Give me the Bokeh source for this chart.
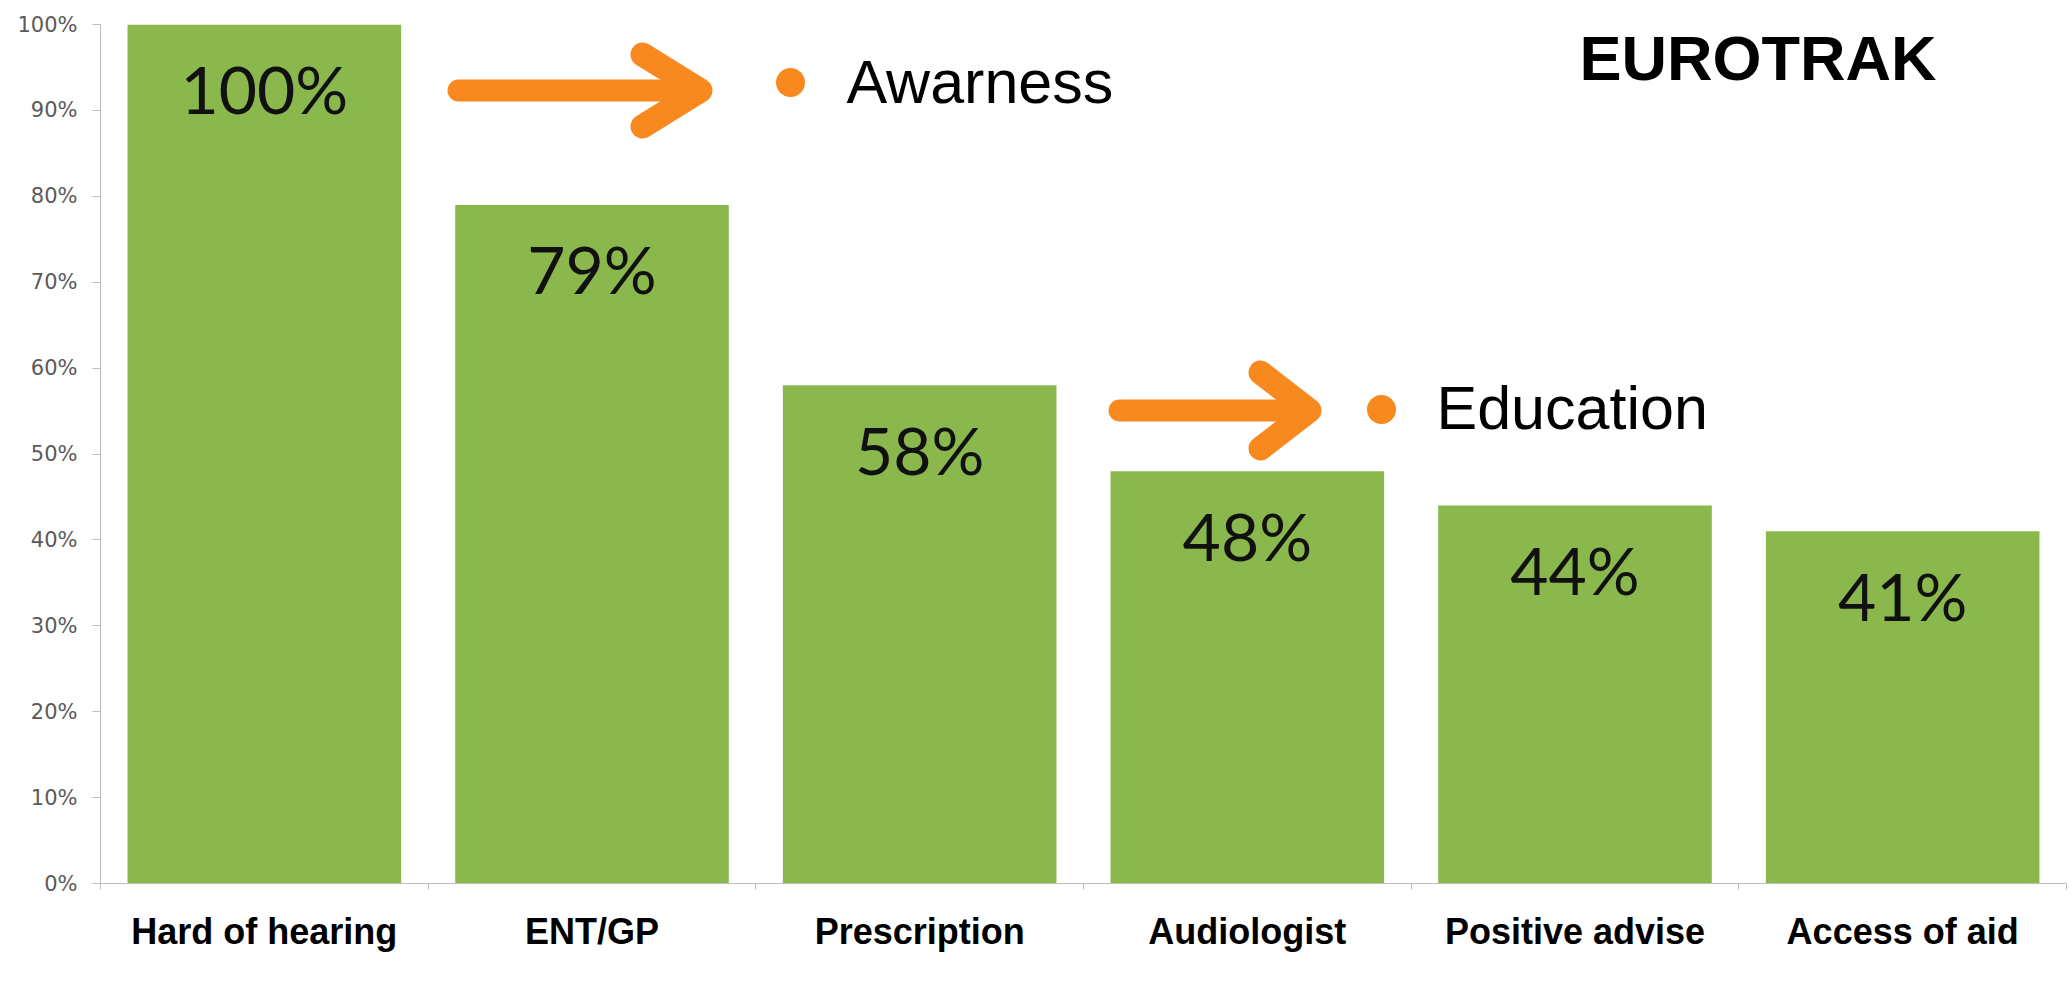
from bokeh.plotting import figure
from bokeh.models import Range1d, FixedTicker, NumeralTickFormatter, Label, ColumnDataSource
from bokeh.core.properties import value
from bokeh.embed import file_html
from bokeh.resources import INLINE

categories = ["Hard of hearing", "ENT/GP", "Prescription", "Audiologist", "Positive advise", "Access of aid"]
shares = [1.00, 0.79, 0.58, 0.48, 0.44, 0.41]
share_labels = ["100%", "79%", "58%", "48%", "44%", "41%"]
y_ticks = [0.0, 0.1, 0.2, 0.3, 0.4, 0.5, 0.6, 0.7, 0.8, 0.9, 1.0]
notes = ["Awarness", "Education"]
title_text = "EUROTRAK"

W, H = 2072, 983
FL, FR, FT, FB = 100, 2066, 24, 883
n = len(categories)
idx = list(range(n))

GREEN = "#8ab84c"
ORANGE = "#f7891f"

def dx(px):
    return (px - FL) / (FR - FL) * n - 0.5

def dy(py):
    return (FB - py) / (FB - FT)

p = figure(width=W, height=H, output_backend="svg", toolbar_location=None,
           x_range=Range1d(-0.5, n - 0.5), y_range=Range1d(0, 1.0),
           min_border_left=FL, min_border_right=W - FR, min_border_top=FT,
           min_border_bottom=H - FB)
p.outline_line_color = None
p.xgrid.visible = False
p.ygrid.visible = False
p.background_fill_color = "white"
p.border_fill_color = "white"

src = ColumnDataSource(dict(x=idx, top=shares, lab=share_labels))
p.vbar(x="x", top="top", width=0.835, source=src, fill_color=GREEN, line_color=None)
p.text(x="x", y="top", text="lab", source=src, y_offset=64,
       text_align="center", text_baseline="middle",
       text_font=value("Lato"), text_font_size="66px", text_color="#111111")

# x axis
xa = p.xaxis[0]
xa.ticker = FixedTicker(ticks=idx, minor_ticks=[i - 0.5 for i in range(n + 1)])
xa.major_label_overrides = {i: c for i, c in zip(idx, categories)}
xa.axis_line_color = "#bdbdbd"
xa.major_tick_line_color = None
xa.minor_tick_line_color = "#bdbdbd"
xa.minor_tick_in = 0
xa.minor_tick_out = 6
xa.major_label_standoff = 21
xa.major_label_text_font = "Liberation Sans"
xa.major_label_text_font_style = "bold"
xa.major_label_text_font_size = "36px"
xa.major_label_text_color = "black"

# y axis
ya = p.yaxis[0]
ya.ticker = FixedTicker(ticks=y_ticks)
ya.formatter = NumeralTickFormatter(format="0%")
ya.axis_line_color = "#bdbdbd"
ya.major_tick_line_color = "#bdbdbd"
ya.major_tick_in = 0
ya.major_tick_out = 8
ya.minor_tick_line_color = None
ya.major_label_standoff = 15
ya.major_label_text_font = "DejaVu Sans"
ya.major_label_text_font_size = "21px"
ya.major_label_text_color = "#5a5a5a"

# arrows
def arrow(x0, x1, tipx, backx, yc, spread):
    p.line([dx(x0), dx(x1)], [dy(yc), dy(yc)], line_color=ORANGE, line_width=22, line_cap="round")
    p.line([dx(backx), dx(tipx), dx(backx)], [dy(yc - spread), dy(yc), dy(yc + spread)],
           line_color=ORANGE, line_width=24, line_cap="round", line_join="round")

arrow(458, 690, 700, 642, 90, 36)
arrow(1119, 1300, 1309, 1260, 410, 38)

# bullets
p.scatter([dx(790), dx(1381)], [dy(82), dy(409)], size=29, marker="circle",
          fill_color=ORANGE, line_color=None)

SHIFT = 22
p.add_layout(Label(x=dx(846), y=dy(103 - SHIFT), text=notes[0], text_font="Liberation Sans",
                   text_font_size="61px", text_color="black", text_baseline="alphabetic"))
p.add_layout(Label(x=dx(1436), y=dy(429 - SHIFT), text=notes[1], text_font="Liberation Sans",
                   text_font_size="61px", text_color="black", text_baseline="alphabetic"))
p.add_layout(Label(x=dx(1579), y=dy(79 - SHIFT), text=title_text, text_font="Liberation Sans",
                   text_font_style="bold", text_font_size="63px", text_color="black",
                   text_baseline="alphabetic"))

open("out.html", "w").write(file_html(p, INLINE))
